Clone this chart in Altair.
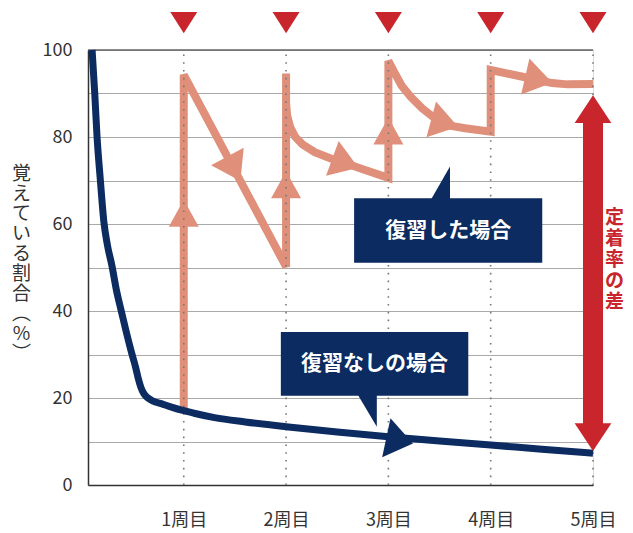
import json
import altair as alt
import pandas as pd

FONT = "Noto Sans CJK JP"
NAVY = "#0b2b61"
ORANGE = "#e0907a"
RED = "#c9252c"
GRID = "#a9a9a9"
AXIS = "#333333"

# ---------------- data ----------------
round_values = [1, 2, 3, 4, 5]
round_labels = ["1周目", "2周目", "3周目", "4周目", "5周目"]
y_ticks = [0, 10, 20, 30, 40, 50, 60, 70, 80, 90, 100]
y_title = list("覚えている割合") + ["︵", "%", "︶"]

# forgetting curve without review
no_review_x = [0.104, 0.13, 0.152, 0.185, 0.22, 0.255, 0.299, 0.34, 0.385, 0.44,
               0.49, 0.53, 0.555, 0.58, 0.61, 0.65, 0.70, 0.78, 0.88, 0.98,
               1.1, 1.3, 1.6, 2.0, 2.5, 3.0, 3.5, 4.0, 4.5, 5.0]
no_review_y = [100, 90, 80.2, 70, 60.3, 55, 50.3, 45, 40.4, 35,
               30.4, 27, 24.5, 22.5, 21.0, 20.0, 19.3, 18.7, 17.9, 17.2,
               16.5, 15.5, 14.5, 13.4, 12.2, 11.1, 10.1, 9.2, 8.2, 7.3]

# retention with review (path in drawing order)
review_x = [1, 1, 2, 2, 2, 2.01, 2.04, 2.09, 2.16, 2.28, 2.43, 2.59, 2.75, 3,
            3, 3.06, 3.13, 3.22, 3.33, 3.47, 3.6, 3.75, 4,
            4, 4.3, 4.6, 4.75, 5]
review_y = [17.5, 94.3, 50.2, 94.6, 88, 85, 82.3, 80.0, 78.3, 76.5, 75.1, 73.9, 72.6, 70.6,
            97.5, 94.8, 91.8, 89.2, 86.6, 84.0, 82.6, 82.0, 81.2,
            95.4, 93.9, 92.4, 92.1, 92.2]

# arrowheads along the review path
up_arrow_x = [1, 2, 3]
up_arrow_y = [62.5, 69.0, 81.4]
slant_arrow_x = [1.49, 2.58, 3.55, 4.47]
slant_arrow_y = [72.7, 74.0, 83.2, 93.2]
slant_arrow_angle = [152, 110, 105, 103]

# arrowhead on the no-review curve
blue_arrow_x = [3.11]
blue_arrow_y = [10.2]
blue_arrow_angle = [102]

# retention gap arrow at 5th round
gap_x = 5
gap_shaft = [84, 13]
gap_heads_y = [86.4, 11.0]
gap_heads_angle = [0, 180]
gap_label = "定着率の差"
gap_label_x = 5.21
gap_label_y = 61.4   # first character; the rest stack below

# review markers above the chart
marker_y = 106.3

# callouts
callout_labels = ["復習した場合", "復習なしの場合"]
callout_x0 = [2.665, 1.949]
callout_x1 = [4.504, 3.781]
callout_y0 = [51.1, 20.5]
callout_y1 = [65.9, 35.2]
pointer_id = [0, 0, 1, 1]
pointer_x = [3.424, 3.602, 2.707, 2.887]
pointer_lo = [65.5, 65.5, 20.5, 13.4]
pointer_hi = [65.9, 73.2, 20.9, 20.9]

x_min = 0.064

# ---------------- scales / axes ----------------
xs = alt.Scale(domain=[x_min, 5], nice=False, zero=False)
ys = alt.Scale(domain=[0, 100], nice=False, zero=True)

label_expr_x = json.dumps(round_labels, ensure_ascii=False) + "[datum.value - 1]"

x_axis = alt.Axis(values=round_values, labelExpr=label_expr_x, grid=False, ticks=False,
                  tickSize=0, domainColor=AXIS, domainWidth=1.5, labelFontSize=18,
                  labelColor=AXIS, labelFont=FONT, labelPadding=26, labelFlush=False,
                  labelOverlap=False, title=None)
y_axis = alt.Axis(values=y_ticks, labelExpr="datum.value % 20 == 0 ? datum.label : ''",
                  grid=True, gridColor=GRID, gridWidth=1, ticks=False, tickSize=0,
                  domainColor=AXIS, domainWidth=1.5, labelFontSize=18, labelColor=AXIS,
                  labelFont=FONT, labelPadding=16, labelFlush=False, labelOverlap=False,
                  title=y_title, titleAngle=0, titleFontSize=19, titleLineHeight=20,
                  titleFont=FONT, titleColor=AXIS, titleFontWeight="normal",
                  titleX=-67, titleY=123, titleAlign="center", titleBaseline="middle")


def X(field="x"):
    return alt.X(field, type="quantitative", scale=xs, axis=x_axis)


def Y(field="y"):
    return alt.Y(field, type="quantitative", scale=ys, axis=y_axis)


ARROW_UP = "M0,-0.9L1,0.9L-1,0.9Z"
ARROW_SLANT = "M0,-0.75L1,0.75L-1,0.75Z"
ARROW_BLUE = "M0,-0.68L1,0.68L-1,0.68Z"
ARROW_GAP = "M0,-0.76L1,0.76L-1,0.76Z"
MARKER = "M-1,-0.78L1,-0.78L0,0.78Z"

# ---------------- layers ----------------
review_df = pd.DataFrame({"x": review_x, "y": review_y, "i": range(len(review_x))})
review_line = alt.Chart(review_df).mark_line(
    color=ORANGE, strokeWidth=8, strokeJoin="miter", strokeCap="butt"
).encode(x=X(), y=Y(), order=alt.Order("i:Q"))

dots_df = pd.DataFrame({"x": round_values, "y": [0] * 5, "y2": [100] * 5})
dots = alt.Chart(dots_df).mark_rule(color="#777777", strokeWidth=1.6,
                                     strokeDash=[1.6, 6.2]).encode(
    x=X(), y=Y(), y2="y2")

top_df = pd.DataFrame({"x": [x_min], "x2": [5], "y": [100]})
top_rule = alt.Chart(top_df).mark_rule(color="#666666", strokeWidth=1.5).encode(
    x=X(), x2="x2", y=Y())

up_df = pd.DataFrame({"x": up_arrow_x, "y": up_arrow_y})
up_arrows = alt.Chart(up_df).mark_point(
    shape=ARROW_UP, size=900, filled=True, color=ORANGE, opacity=1, strokeWidth=0
).encode(x=X(), y=Y())

slant_df = pd.DataFrame({"x": slant_arrow_x, "y": slant_arrow_y, "a": slant_arrow_angle})
slant_arrows = alt.Chart(slant_df).mark_point(
    shape=ARROW_SLANT, size=1369, filled=True, color=ORANGE, opacity=1, strokeWidth=0
).encode(x=X(), y=Y(), angle=alt.Angle("a:Q", scale=None))

no_df = pd.DataFrame({"x": no_review_x, "y": no_review_y})
no_line = alt.Chart(no_df).mark_line(
    color=NAVY, strokeWidth=7, interpolate="monotone", strokeCap="butt"
).encode(x=X(), y=Y())

blue_df = pd.DataFrame({"x": blue_arrow_x, "y": blue_arrow_y, "a": blue_arrow_angle})
blue_arrow = alt.Chart(blue_df).mark_point(
    shape=ARROW_BLUE, size=1600, filled=True, color=NAVY, opacity=1, strokeWidth=0
).encode(x=X(), y=Y(), angle=alt.Angle("a:Q", scale=None))

box_df = pd.DataFrame({"x": callout_x0, "x2": callout_x1, "y": callout_y0,
                       "y2": callout_y1, "label": callout_labels,
                       "cx": [(a + b) / 2 for a, b in zip(callout_x0, callout_x1)],
                       "cy": [(a + b) / 2 for a, b in zip(callout_y0, callout_y1)]})
boxes = alt.Chart(box_df).mark_rect(color=NAVY, opacity=1).encode(
    x=X(), x2="x2", y=Y(), y2="y2")
ptr_df = pd.DataFrame({"id": pointer_id, "x": pointer_x, "y": pointer_lo, "y2": pointer_hi})
pointers = alt.Chart(ptr_df).mark_area(color=NAVY, opacity=1).encode(
    x=X(), y=Y(), y2="y2", detail="id:N")
box_text = alt.Chart(box_df).mark_text(
    color="white", fontSize=21, fontWeight="bold", font=FONT, align="center",
    baseline="middle"
).encode(x=X("cx"), y=Y("cy"), text="label:N")

shaft_df = pd.DataFrame({"x": [gap_x], "y": [gap_shaft[0]], "y2": [gap_shaft[1]]})
shaft = alt.Chart(shaft_df).mark_rule(color=RED, strokeWidth=20, strokeCap="butt").encode(
    x=X(), y=Y(), y2="y2")
heads_df = pd.DataFrame({"x": [gap_x, gap_x], "y": gap_heads_y, "a": gap_heads_angle})
heads = alt.Chart(heads_df).mark_point(
    shape=ARROW_GAP, size=1347, filled=True, color=RED, opacity=1, strokeWidth=0
).encode(x=X(), y=Y(), angle=alt.Angle("a:Q", scale=None))
gap_df = pd.DataFrame({"x": [gap_label_x], "y": [gap_label_y],
                       "t": ["\n".join(gap_label)]})
gap_text = alt.Chart(gap_df).mark_text(
    color=RED, fontSize=19, fontWeight="bold", font=FONT, align="center",
    baseline="middle", lineBreak="\n", lineHeight=21
).encode(x=X(), y=Y(), text="t:N")

marker_df = pd.DataFrame({"x": round_values, "y": [marker_y] * 5})
markers = alt.Chart(marker_df).mark_point(
    shape=MARKER, size=729, filled=True, color=RED, opacity=1, strokeWidth=0
).encode(x=X(), y=Y())

chart = alt.layer(
    top_rule, review_line, up_arrows, slant_arrows, dots, no_line, blue_arrow,
    boxes, pointers, box_text, shaft, heads, gap_text, markers
).properties(
    width=505, height=435,
    padding={"left": 80, "top": 42, "right": 32, "bottom": 45},
    autosize=alt.AutoSizeParams(type="none"),
).configure_view(stroke=None).configure(background="white")

chart.save("out.html", embed_options={"renderer": "svg", "actions": False})
